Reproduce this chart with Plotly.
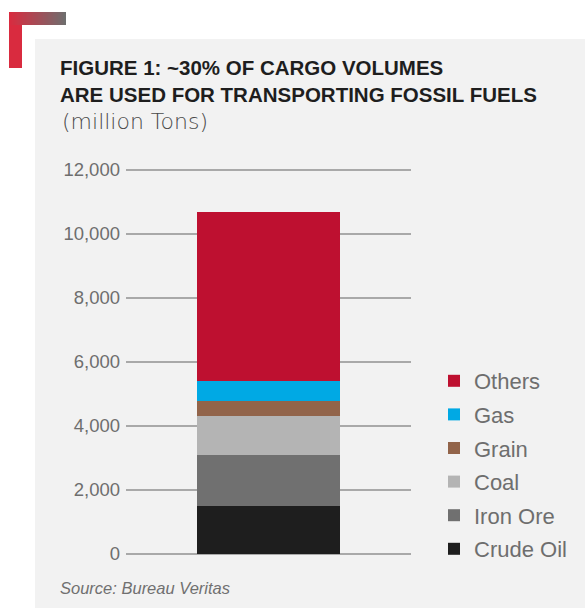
import plotly.graph_objects as go

# Cargo volumes by commodity, million tons (stacked bottom to top)
commodities = ["Crude Oil", "Iron Ore", "Coal", "Grain", "Gas", "Others"]
volumes = [1510, 1590, 1220, 460, 635, 5275]
colors = ["#1e1e1e", "#707070", "#b4b4b4", "#92644a", "#00a9e4", "#be1030"]

y_ticks = [0, 2000, 4000, 6000, 8000, 10000, 12000]
y_tick_labels = ["0", "2,000", "4,000", "6,000", "8,000", "10,000", "12,000"]

W, H = 585, 610
Y_MAX = 12100          # a little headroom so the 12,000 gridline is drawn
PX_PER_UNIT = 0.032    # 32 px per 1,000 tons


def px_x(v):
    return v / W


def px_y(v):
    return (H - v) / H


fig = go.Figure()
n = len(commodities)
for i, (name, vol, col) in enumerate(zip(commodities, volumes, colors)):
    fig.add_trace(go.Bar(
        x=[0], y=[vol], name=name, width=0.503,
        marker=dict(color=col, line=dict(width=0)),
        legendgroup=name, legendrank=n - i, hoverinfo="name+y",
    ))

shapes = [
    # grey panel behind the chart
    dict(type="rect", xref="paper", yref="paper", layer="below",
         x0=px_x(35), x1=1, y0=px_y(608), y1=px_y(39),
         fillcolor="#f2f2f2", line=dict(width=0)),
    # red corner bracket, vertical stroke
    dict(type="rect", xref="paper", yref="paper", layer="below",
         x0=px_x(9), x1=px_x(22), y0=px_y(68), y1=px_y(12),
         fillcolor="#d92b3f", line=dict(width=0)),
]

# horizontal stroke of the bracket fades from red to grey
c0 = (217, 43, 63)
c1 = (110, 110, 110)
steps = 57
for i in range(steps):
    t = i / (steps - 1)
    r, g, b = (round(a + (bb - a) * t) for a, bb in zip(c0, c1))
    shapes.append(dict(
        type="rect", xref="paper", yref="paper", layer="below",
        x0=px_x(9 + i), x1=px_x(10 + i), y0=px_y(25), y1=px_y(12),
        fillcolor=f"rgb({r},{g},{b})", line=dict(width=0)))

annotations = [
    dict(text="FIGURE 1: ~30% OF CARGO VOLUMES<br>ARE USED FOR TRANSPORTING FOSSIL FUELS",
         xref="paper", yref="paper", align="left",
         x=px_x(58), y=px_y(81), xanchor="left", yanchor="middle",
         showarrow=False,
         font=dict(family="Liberation Sans", size=20.5, color="#1e1e1e", weight=700)),
    dict(text="(million Tons)", xref="paper", yref="paper",
         x=px_x(60), y=px_y(122), xanchor="left", yanchor="middle",
         showarrow=False,
         font=dict(family="DejaVu Sans", size=22, color="#4a4a4a", weight=200)),
    dict(text="Source: Bureau Veritas", xref="paper", yref="paper",
         x=px_x(58), y=px_y(588), xanchor="left", yanchor="middle",
         showarrow=False,
         font=dict(family="Liberation Sans", size=16.5, color="#707070", style="italic")),
]

fig.update_layout(
    width=W, height=H,
    margin=dict(l=0, r=0, t=0, b=0),
    paper_bgcolor="white",
    plot_bgcolor="rgba(0,0,0,0)",
    barmode="stack",
    shapes=shapes,
    annotations=annotations,
    showlegend=True,
    legend=dict(
        x=px_x(572), y=px_y(360), xanchor="right", yanchor="top",
        traceorder="grouped", tracegroupgap=2,
        bgcolor="rgba(0,0,0,0)",
        font=dict(family="Liberation Sans", size=22, color="#6e6e6e"),
    ),
    xaxis=dict(domain=[px_x(126), px_x(411)], range=[-0.5, 0.5],
               visible=False, fixedrange=True),
    yaxis=dict(domain=[px_y(554), px_y(554 - Y_MAX * PX_PER_UNIT)], range=[0, Y_MAX],
               tickvals=y_ticks, ticktext=y_tick_labels,
               showgrid=True, gridcolor="#a9a9a9", gridwidth=2,
               zeroline=True, zerolinecolor="#a9a9a9", zerolinewidth=2,
               showline=False, ticks="", ticklabelstandoff=5, automargin=False,
               tickfont=dict(family="Liberation Sans", size=18.5, color="#6e6e6e"),
               fixedrange=True),
)

fig.write_html("out.html")
